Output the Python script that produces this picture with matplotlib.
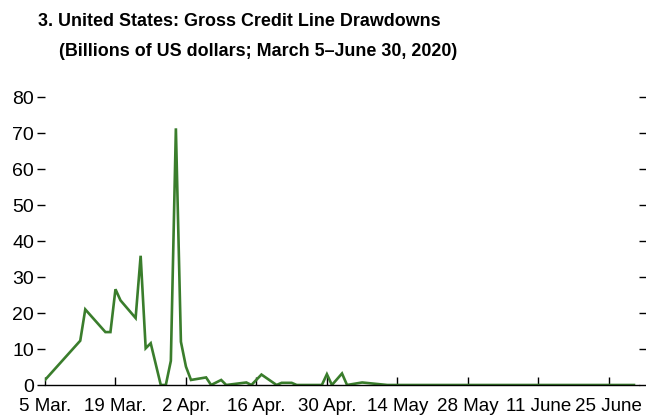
import numpy as np
import pandas as pd
import matplotlib
matplotlib.use('Agg')
import matplotlib.pyplot as plt
import matplotlib.dates as mdates

plt.rcParams['font.family'] = ['Liberation Sans', 'DejaVu Sans']

## Data (billions of US dollars)
dates = ['2020-03-05', '2020-03-12', '2020-03-13', '2020-03-17', '2020-03-18',
         '2020-03-19', '2020-03-20', '2020-03-23', '2020-03-24', '2020-03-25',
         '2020-03-26', '2020-03-28', '2020-03-29', '2020-03-30', '2020-03-31',
         '2020-04-01', '2020-04-02', '2020-04-03', '2020-04-06', '2020-04-07',
         '2020-04-09', '2020-04-10', '2020-04-14', '2020-04-15', '2020-04-17',
         '2020-04-20', '2020-04-21', '2020-04-23', '2020-04-24', '2020-04-29',
         '2020-04-30', '2020-05-01', '2020-05-03', '2020-05-04', '2020-05-07',
         '2020-05-12', '2020-06-30']
drawdowns = [1.4, 12.3, 21.0, 14.7, 14.7,
             26.6, 23.5, 18.6, 35.9, 10.2,
             11.6, 0.0, 0.0, 6.7, 71.3,
             12.0, 5.1, 1.4, 2.1, 0.0,
             1.4, 0.0, 0.7, 0.0, 2.9,
             0.0, 0.6, 0.6, 0.0, 0.0,
             3.0, 0.0, 3.2, 0.0, 0.7,
             0.0, 0.0]

tick_dates = ['2020-03-05', '2020-03-19', '2020-04-02', '2020-04-16', '2020-04-30',
              '2020-05-14', '2020-05-28', '2020-06-11', '2020-06-25']
tick_labels = ['5 Mar.', '19 Mar.', '2 Apr.', '16 Apr.', '30 Apr.',
               '14 May', '28 May', '11 June', '25 June']
y_ticks = [0, 10, 20, 30, 40, 50, 60, 70, 80]

x = pd.to_datetime(dates)

## Plotting
fig = plt.figure(figsize=(6.46, 4.15), dpi=100)
ax = fig.add_axes([45/646, 30/415, 594/646, 288/415])

ax.plot(x, drawdowns, color='#3a7d2c', lw=1.9, solid_joinstyle='miter')

ax.set_xlim(pd.Timestamp('2020-03-05'), pd.Timestamp('2020-07-01'))
ax.set_ylim(0, 80)
ax.set_xticks(pd.to_datetime(tick_dates))
ax.set_xticklabels(tick_labels)
ax.set_yticks(y_ticks)

for side in ['left', 'right', 'top']:
    ax.spines[side].set_visible(False)
ax.spines['bottom'].set_linewidth(1.0)

ax.tick_params(axis='x', direction='in', length=6, width=1, labelsize=13.5, pad=9)
ax.tick_params(axis='y', direction='out', length=6, width=1, labelsize=14, pad=2,
               left=True, right=True, labelleft=True, labelright=False)

fig.text(38/646, 1 - 26/415, '3. United States: Gross Credit Line Drawdowns',
         fontsize=12.9, fontweight='bold', ha='left', va='baseline')
fig.text(59/646, 1 - 56/415, '(Billions of US dollars; March 5\u2013June 30, 2020)',
         fontsize=12.9, fontweight='bold', ha='left', va='baseline')

fig.savefig('out.png', dpi=100)
